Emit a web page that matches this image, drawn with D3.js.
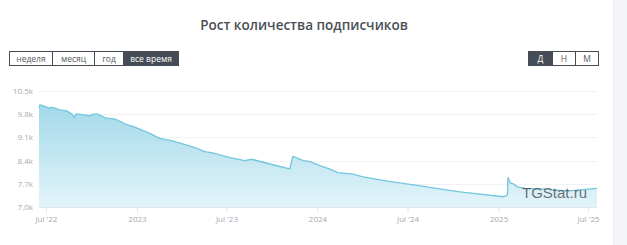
<!DOCTYPE html>
<html>
<head>
<meta charset="utf-8">
<script src="https://cdn.jsdelivr.net/npm/d3@7"></script>
<style>
  html, body { margin: 0; padding: 0; background: #fff; }
  body { width: 627px; height: 245px; overflow: hidden; font-family: "Open Sans", "Noto Sans", sans-serif; }
</style>
</head>
<body>
<div id="chart"></div>
<script>
// subscriber counts
const dates = [
  '2022-06-17', '2022-06-19', '2022-07-09', '2022-07-13', '2022-07-29', '2022-08-12',
  '2022-08-23', '2022-08-27', '2022-08-31', '2022-09-18', '2022-09-28', '2022-10-04',
  '2022-10-14', '2022-10-29', '2022-11-18', '2022-12-09', '2022-12-29', '2023-01-27',
  '2023-02-16', '2023-03-12', '2023-04-07', '2023-04-28', '2023-05-18', '2023-06-03',
  '2023-07-08', '2023-08-07', '2023-08-21', '2023-09-21', '2023-11-06', '2023-11-12',
  '2023-11-18', '2023-12-03', '2023-12-17', '2024-01-06', '2024-01-26', '2024-02-11',
  '2024-03-13', '2024-04-02', '2024-05-21', '2024-07-27', '2024-09-20', '2024-10-23',
  '2025-01-11', '2025-01-19', '2025-01-20', '2025-01-25', '2025-01-31', '2025-02-08',
  '2025-02-24', '2025-04-10', '2025-05-20', '2025-06-30', '2025-07-19'
];
const subscribers = [
  9990, 10080, 9980, 10010, 9930, 9900,
  9800, 9710, 9810, 9780, 9750, 9800,
  9800, 9690, 9650, 9500, 9400, 9220,
  9070, 9000, 8890, 8790, 8670, 8630,
  8490, 8400, 8440, 8320, 8150, 8520,
  8500, 8400, 8370, 8250, 8140, 8040,
  7990, 7910, 7780, 7640, 7510, 7440,
  7310, 7360, 7900, 7720, 7700, 7610,
  7560, 7540, 7480, 7540, 7560
];

const yTicks = [7000, 7700, 8400, 9100, 9800, 10500];
const xTickDates = ['2022-07-01', '2023-01-01', '2023-07-01', '2024-01-01', '2024-07-01', '2025-01-01', '2025-07-01'];
const xTickLabels = ["Jul '22", '2023', "Jul '23", '2024', "Jul '24", '2025', "Jul '25"];

const periodButtons = ['неделя', 'месяц', 'год', 'все время'];
const scaleButtons = ['Д', 'Н', 'М'];

const parse = d3.timeParse('%Y-%m-%d');
const data = dates.map((d, i) => ({ date: parse(d), value: subscribers[i] }));

const W = 627, H = 245;
const margin = { top: 91, right: 30, bottom: 38, left: 39 };

const svg = d3.select('#chart').append('svg')
  .attr('width', W).attr('height', H);

// grey page background to the right of the card
svg.append('rect').attr('x', 613).attr('y', 0).attr('width', W - 613).attr('height', H).attr('fill', '#f4f5f9');
svg.append('line').attr('x1', 613.5).attr('x2', 613.5).attr('y1', 0).attr('y2', H).attr('stroke', '#e8eaf0');

svg.append('text')
  .attr('x', 304).attr('y', 30)
  .attr('text-anchor', 'middle')
  .attr('font-size', 13.5).attr('font-weight', 600)
  .attr('fill', '#4a4f56')
  .text('Рост количества подписчиков');

// button groups
function buttonGroup(labels, x0, widths, activeIdx) {
  const g = svg.append('g').attr('transform', `translate(${x0},51)`);
  let x = 0;
  labels.forEach((lab, i) => {
    const active = i === activeIdx;
    g.append('rect')
      .attr('x', x + 0.5).attr('y', 0.5).attr('width', widths[i]).attr('height', 14)
      .attr('fill', active ? '#464c55' : '#fff')
      .attr('stroke', '#464c55').attr('stroke-width', 1);
    g.append('text')
      .attr('x', x + widths[i] / 2 + 0.5).attr('y', 11)
      .attr('text-anchor', 'middle')
      .attr('font-size', 8.5)
      .attr('fill', active ? '#fff' : '#555a60')
      .text(lab);
    x += widths[i];
  });
}
buttonGroup(periodButtons, 9, [43, 42, 29, 55], 3);
buttonGroup(scaleButtons, 528, [24, 23, 23], 0);

const width = W - margin.left - margin.right;   // 558
const height = H - margin.top - margin.bottom;  // 116

const x = d3.scaleTime()
  .domain([parse('2022-06-17'), parse('2025-07-19')])
  .range([margin.left, margin.left + width]);

const y = d3.scaleLinear()
  .domain([7000, 10500])
  .range([margin.top + height, margin.top]);

// grid
svg.append('g')
  .selectAll('line')
  .data(yTicks)
  .join('line')
  .attr('x1', margin.left).attr('x2', margin.left + width)
  .attr('y1', d => Math.round(y(d)) + 0.5).attr('y2', d => Math.round(y(d)) + 0.5)
  .attr('stroke', '#f1f2f4');

// area + line
const grad = svg.append('defs').append('linearGradient')
  .attr('id', 'fillGrad').attr('x1', 0).attr('y1', 0).attr('x2', 0).attr('y2', 1);
grad.append('stop').attr('offset', '0%').attr('stop-color', '#a3d9ea');
grad.append('stop').attr('offset', '100%').attr('stop-color', '#e3f4fa');

const area = d3.area()
  .x(d => x(d.date))
  .y0(y(7000))
  .y1(d => y(d.value));

svg.append('path')
  .datum(data)
  .attr('fill', 'url(#fillGrad)')
  .attr('d', area);

const line = d3.line()
  .x(d => x(d.date))
  .y(d => y(d.value));

svg.append('path')
  .datum(data)
  .attr('fill', 'none')
  .attr('stroke', '#72c6de')
  .attr('stroke-width', 1.3)
  .attr('d', line);

// y axis labels
const yAxis = svg.append('g')
  .attr('transform', `translate(${margin.left},0)`)
  .call(d3.axisLeft(y).tickValues(yTicks).tickSize(0).tickPadding(6)
    .tickFormat(d => (d / 1000).toFixed(1) + 'k'));
yAxis.select('.domain').remove();
yAxis.selectAll('text').attr('fill', '#a5a9ae').attr('font-size', 8).attr('font-family', '"Open Sans", sans-serif');

// x axis
const xAxis = svg.append('g')
  .attr('transform', `translate(0,${margin.top + height + 0.5})`)
  .call(d3.axisBottom(x).tickValues(xTickDates.map(parse)).tickSize(5).tickPadding(4)
    .tickFormat((d, i) => xTickLabels[i]));
xAxis.select('.domain').attr('stroke', '#e4e6e9').attr('d', `M${margin.left},0H${margin.left + width}`);
xAxis.selectAll('.tick line').attr('stroke', '#e4e6e9');
xAxis.selectAll('text').attr('fill', '#a5a9ae').attr('font-size', 8).attr('font-family', '"Open Sans", sans-serif');

// watermark
svg.append('text')
  .attr('x', 522).attr('y', 198)
  .attr('font-family', '"Liberation Sans", Arial, sans-serif')
  .attr('font-size', 15)
  .attr('fill', '#555')
  .attr('fill-opacity', 0.85)
  .text('TGStat.ru');
</script>
</body>
</html>
